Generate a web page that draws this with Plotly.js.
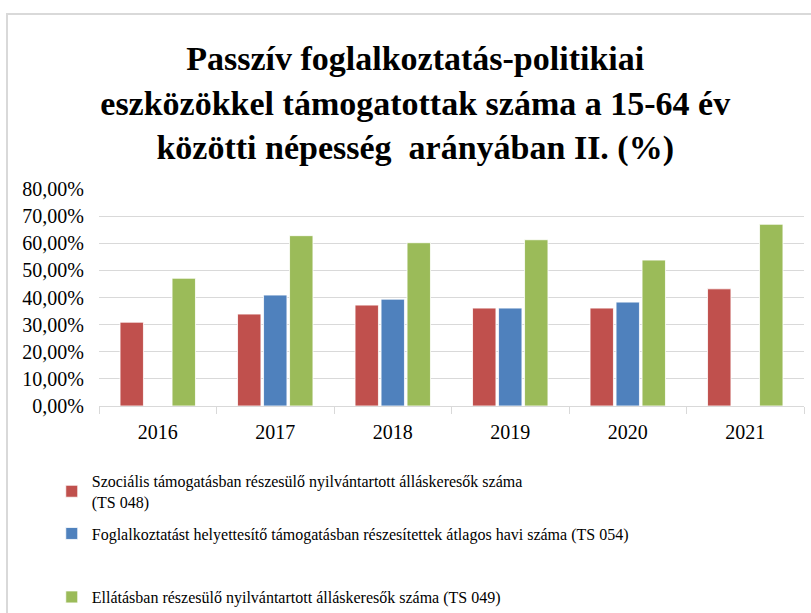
<!DOCTYPE html>
<html>
<head>
<meta charset="utf-8">
<script src="https://cdn.plot.ly/plotly-3.0.1.min.js"></script>
<style>
  html, body { margin: 0; padding: 0; background: #ffffff; overflow: hidden; }
  #chart { position: absolute; left: 0; top: 0; width: 811px; height: 613px; }
  #frame { position: absolute; left: 6px; top: 13px; width: 900px; height: 700px;
           border: 2px solid #d9d9d9; pointer-events: none; }
</style>
</head>
<body>
<div id="chart"></div>
<div id="frame"></div>
<script>
const years = ['2016', '2017', '2018', '2019', '2020', '2021'];
const szocialis = [30.9, 33.9, 37.2, 36.1, 36.1, 43.2];
const foglalkoztatast = [null, 40.9, 39.4, 36.1, 38.3, null];
const ellatasban = [47.1, 62.8, 60.2, 61.3, 53.8, 67.0];

const names = [
  'Szociális támogatásban részesülő nyilvántartott álláskeresők száma<br>(TS 048)',
  'Foglalkoztatást helyettesítő támogatásban részesítettek átlagos havi száma (TS 054)',
  'Ellátásban részesülő nyilvántartott álláskeresők száma (TS 049)'
];
const colors = ['#C0504D', '#4F81BD', '#9BBB59'];
const series = [szocialis, foglalkoztatast, ellatasban];
const groups = ['g1', 'g2', 'g3'];

const serif = 'Liberation Serif, Times New Roman, serif';

const traces = series.map((vals, i) => ({
  type: 'bar',
  x: years,
  y: vals,
  name: names[i],
  legendgroup: groups[i],
  marker: { color: colors[i], line: { color: 'rgba(255,255,255,0.8)', width: 1 } },
  legend: i === 2 ? 'legend2' : 'legend',
  hoverinfo: 'x+y+name'
}));

const legendFont = { family: serif, size: 16, color: '#000000' };

const layout = {
  width: 811,
  height: 613,
  paper_bgcolor: '#ffffff',
  plot_bgcolor: '#ffffff',
  margin: { l: 99, r: 7, t: 189, b: 207, pad: 0, autoexpand: false },
  separators: ',.',
  barmode: 'group',
  bargap: 0.336,
  bargroupgap: 0.1,
  title: {
    text: '<b>Passzív foglalkoztatás-politikiai<br>eszközökkel támogatottak száma a 15-64 év<br>közötti népesség  arányában II. (%)</b>',
    font: { family: serif, size: 34, color: '#000000' },
    x: 0.512, xref: 'container', xanchor: 'center',
    y: 0.885, yref: 'container', yanchor: 'top'
  },
  xaxis: {
    type: 'category',
    showgrid: false,
    showline: true,
    linecolor: '#d9d9d9',
    linewidth: 1,
    ticks: 'outside',
    tickson: 'boundaries',
    ticklen: 7,
    tickcolor: '#d9d9d9',
    tickfont: { family: serif, size: 20, color: '#000000' },
    ticklabelstandoff: 8,
    fixedrange: true
  },
  yaxis: {
    range: [0, 80],
    dtick: 10,
    tickformat: '.2f',
    ticksuffix: '%',
    showgrid: true,
    gridcolor: '#d9d9d9',
    gridwidth: 1,
    zeroline: false,
    showline: false,
    ticks: '',
    ticklabelstandoff: 14,
    tickfont: { family: serif, size: 20, color: '#000000' },
    fixedrange: true
  },
  showlegend: true,
  legend: {
    orientation: 'v',
    x: -0.067, xanchor: 'left',
    y: -0.267, yanchor: 'top',
    font: legendFont,
    bgcolor: 'rgba(0,0,0,0)',
    traceorder: 'grouped',
    tracegroupgap: 8,
    itemclick: false, itemdoubleclick: false
  },
  legend2: {
    orientation: 'v',
    x: -0.067, xanchor: 'left',
    y: -0.802, yanchor: 'top',
    font: legendFont,
    bgcolor: 'rgba(0,0,0,0)',
    itemclick: false, itemdoubleclick: false
  }
};

Plotly.newPlot('chart', traces, layout, { displayModeBar: false });
</script>
</body>
</html>
